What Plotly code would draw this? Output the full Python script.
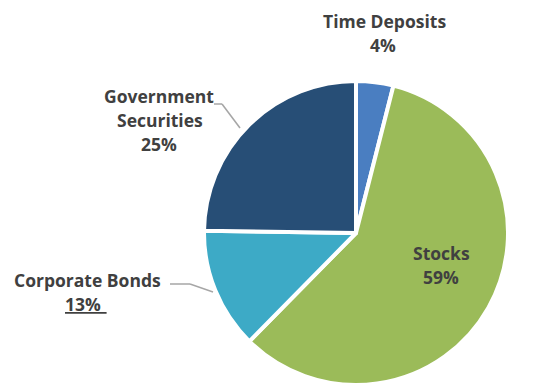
import plotly.graph_objects as go

# ---- data ----
labels = ["Time Deposits", "Stocks", "Corporate Bonds", "Government Securities"]
values = [4, 59, 13, 25]
colors = ["#4A7EC1", "#9BBB59", "#3DAAC6", "#274E76"]

# ---- style / layout ----
W, H = 540, 385
cx, cy, r = 356, 233, 152  # pie centre/radius in pixels (from top-left)
text_color = "#404040"
font_family = "Open Sans"

def px(x):
    return x / W

def py(y):
    return 1 - y / H

fig = go.Figure(
    go.Pie(
        labels=labels,
        values=values,
        sort=False,
        direction="clockwise",
        rotation=0,
        marker=dict(colors=colors, line=dict(color="white", width=4)),
        textinfo="none",
        hoverinfo="label+percent",
        domain=dict(x=[px(cx - r - 20), px(cx + r + 20)], y=[max(0, py(cy + r)), py(cy - r)]),
        showlegend=False,
    )
)

# label placement (pixel centres): name lines, percent line
label_pos = {
    "Time Deposits": [("Time Deposits", 384, 21), ("pct", 383, 45)],
    "Stocks": [("Stocks", 441, 253), ("pct", 441, 277)],
    "Corporate Bonds": [("Corporate Bonds", 87, 280), ("pct_u", 86, 304)],
    "Government Securities": [("Government", 159, 96), ("Securities", 160, 120), ("pct", 159, 144)],
}

annotations = []
for lab, val in zip(labels, values):
    for txt, x, y in label_pos[lab]:
        if txt == "pct":
            t = f"{val}%"
        elif txt == "pct_u":
            t = f"<u>{val}%\u2009\u2009</u>"
        else:
            t = txt
        annotations.append(
            dict(
                text=f"<b>{t}</b>",
                x=px(x), y=py(y), xref="paper", yref="paper",
                xanchor="center", yanchor="middle", showarrow=False,
                font=dict(family=font_family, size=17.5, color=text_color),
            )
        )

# leader lines
leader = "#A6A6A6"
shapes = [
    dict(type="line", xref="paper", yref="paper", x0=px(214), y0=py(104), x1=px(222), y1=py(104),
         line=dict(color=leader, width=1.5)),
    dict(type="line", xref="paper", yref="paper", x0=px(222), y0=py(104), x1=px(240), y1=py(128),
         line=dict(color=leader, width=1.5)),
    dict(type="line", xref="paper", yref="paper", x0=px(170), y0=py(284), x1=px(190), y1=py(284),
         line=dict(color=leader, width=1.5)),
    dict(type="line", xref="paper", yref="paper", x0=px(190), y0=py(284), x1=px(213), y1=py(292),
         line=dict(color=leader, width=1.5)),
]

fig.update_layout(
    width=W, height=H,
    margin=dict(l=0, r=0, t=0, b=0),
    paper_bgcolor="white",
    plot_bgcolor="white",
    annotations=annotations,
    shapes=shapes,
)

fig.write_html("out.html")
